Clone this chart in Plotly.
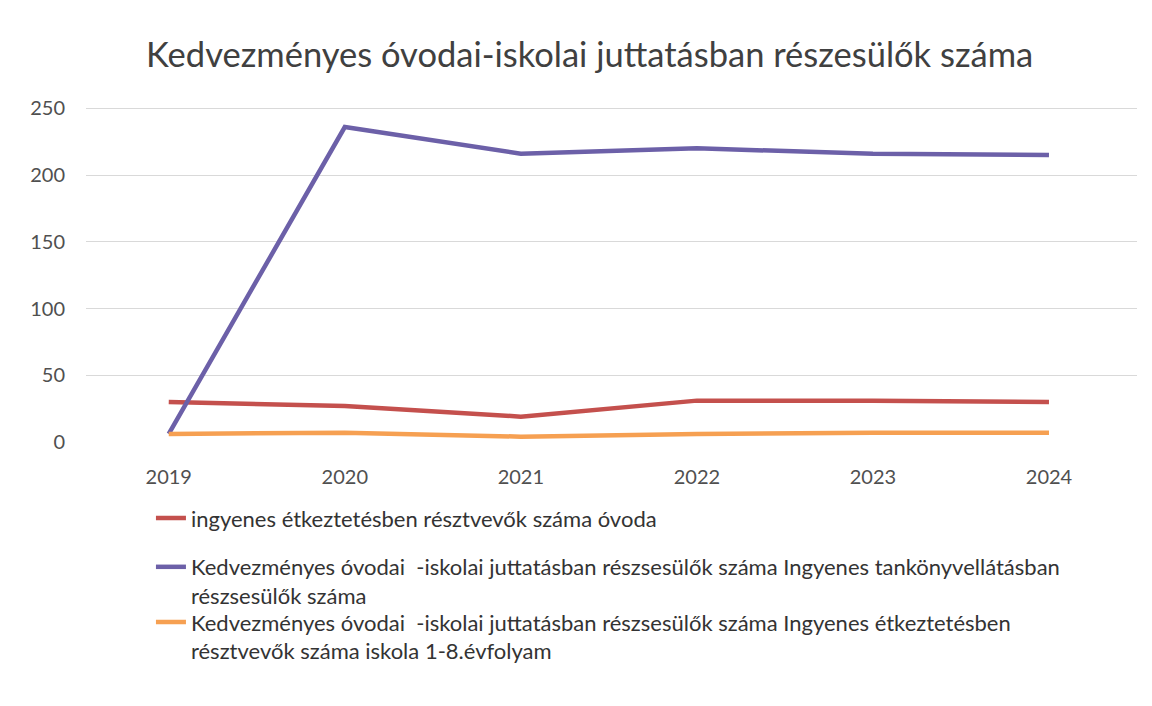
import plotly.graph_objects as go

years = ["2019", "2020", "2021", "2022", "2023", "2024"]
ovoda_etkezes = [30, 27, 19, 31, 31, 30]
tankonyv = [6, 236, 216, 220, 216, 215]
iskola_etkezes = [6, 7, 4, 6, 7, 7]

names = [
    "ingyenes étkeztetésben résztvevők száma óvoda",
    "Kedvezményes óvodai  -iskolai juttatásban részsesülők száma Ingyenes tankönyvellátásban<br>részsesülők száma",
    "Kedvezményes óvodai  -iskolai juttatásban részsesülők száma Ingyenes étkeztetésben<br>résztvevők száma iskola 1-8.évfolyam",
]
colors = ["#C4504D", "#6C60A8", "#F6A052"]
series = [ovoda_etkezes, tankonyv, iskola_etkezes]
legend_ids = ["legend", "legend2", "legend3"]
legend_y = [-0.1647, -0.3105, -0.4750]

FONT = "Lato"

fig = go.Figure()
for name, vals, col, lid in zip(names, series, colors, legend_ids):
    fig.add_trace(go.Scatter(
        x=years, y=vals, mode="lines", name=name,
        line=dict(color=col, width=4.5), legend=lid,
    ))

legend_common = dict(
    x=0.0618, xanchor="left", yanchor="top",
    orientation="v", valign="top",
    font=dict(family=FONT, size=22, color="#333333"),
    itemwidth=30, bgcolor="rgba(0,0,0,0)",
)

# page body has an 8px default margin, so the figure is sized to fit inside it
fig.update_layout(
    width=1136, height=690,
    paper_bgcolor="white", plot_bgcolor="white",
    margin=dict(l=78, r=7, t=99, b=256),
    title=dict(
        text="Kedvezményes óvodai-iskolai juttatásban részesülők száma",
        x=0.512, xanchor="center", y=0.932, yanchor="middle",
        font=dict(family=FONT, size=34.5, color="#404040"),
    ),
    xaxis=dict(
        type="category", range=[-0.47, 5.5],
        showgrid=False, showline=False, zeroline=False,
        ticks="", ticklabelstandoff=21,
        tickfont=dict(family=FONT, size=20, color="#505050"),
    ),
    yaxis=dict(
        range=[0, 251], tickvals=[0, 50, 100, 150, 200, 250],
        showgrid=True, gridcolor="#D9D9D9", gridwidth=1,
        zeroline=False, showline=False, ticks="",
        ticklabelstandoff=20,
        tickfont=dict(family=FONT, size=20, color="#505050"),
    ),
    showlegend=True,
    legend=dict(y=legend_y[0], **legend_common),
    legend2=dict(y=legend_y[1], **legend_common),
    legend3=dict(y=legend_y[2], **legend_common),
)

fig.write_html("out.html")
